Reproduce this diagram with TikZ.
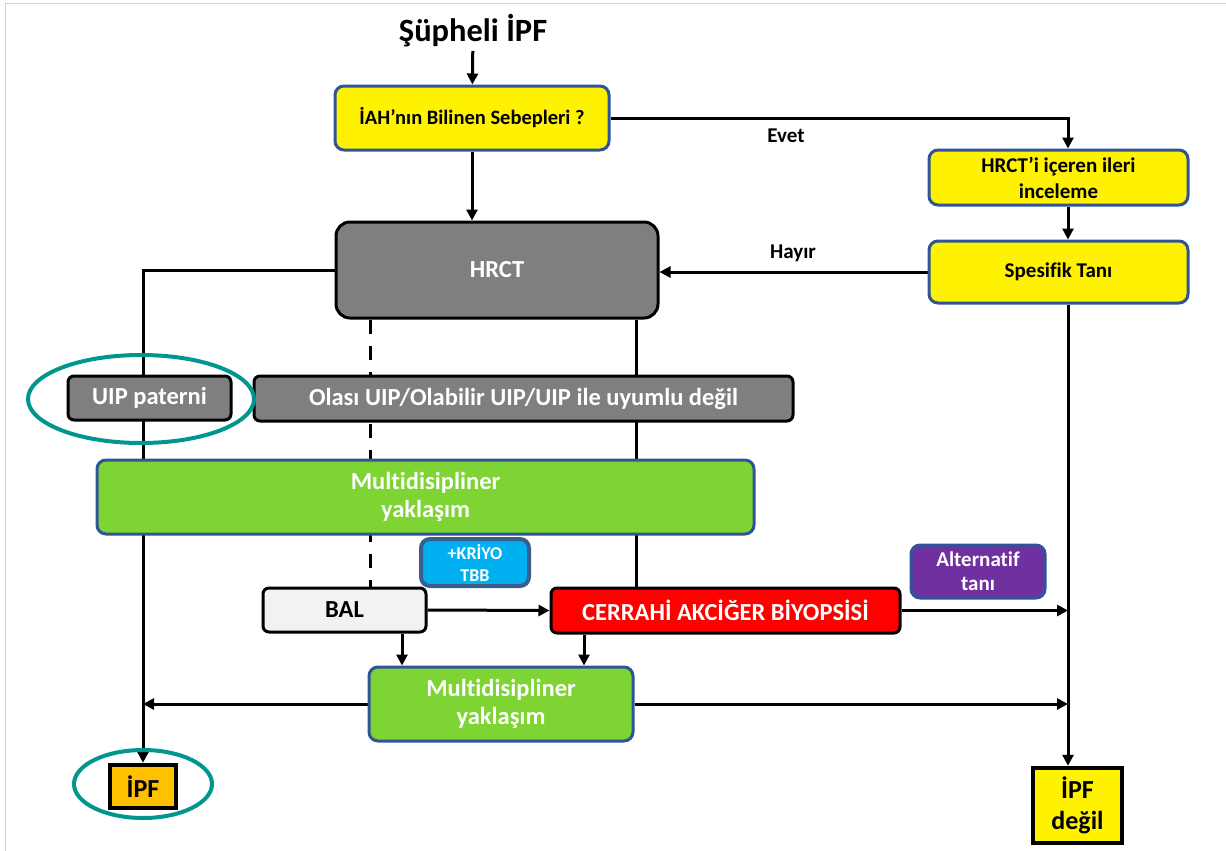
\documentclass[tikz,border=0pt]{standalone}
\usepackage{fontspec}
\setmainfont{Carlito}[Ligatures=NoCommon]
\usetikzlibrary{arrows.meta,backgrounds}

\definecolor{bordblue}{HTML}{2F5597}
\definecolor{boxgray}{HTML}{7F7F7F}
\definecolor{mdgreen}{HTML}{7ED432}
\definecolor{kriyo}{HTML}{00B0F0}
\definecolor{kriyobord}{HTML}{3B5E8C}
\definecolor{altpurple}{HTML}{7030A0}
\definecolor{ipforange}{HTML}{FFC000}
\definecolor{ringteal}{HTML}{00968F}
\definecolor{framegray}{HTML}{D0D0D0}

\newcommand{\fs}[2]{\bfseries\fontsize{#1}{#2}\selectfont}

\tikzset{
  base/.style={rectangle, rounded corners=9pt, line width=3pt, align=center,
    font=\fs{24.5}{28}, inner sep=0pt},
  yellowbox/.style={base, draw=bordblue, fill=yellow, text=black, font=\fs{21}{26}},
  graybox/.style={base, draw=black, fill=boxgray, text=white},
  greenbox/.style={base, draw=bordblue, fill=mdgreen, text=white},
  redbox/.style={base, draw=black, fill=red, text=white},
  balbox/.style={base, draw=black, fill=black!5, text=black},
  kriyobox/.style={base, draw=kriyobord, line width=4pt, fill=kriyo, text=white,
    font=\fs{18}{22}},
  altbox/.style={base, draw=bordblue, fill=altpurple, text=white,
    font=\fs{21}{24}},
  endbox/.style={rectangle, line width=4.5pt, draw=black, align=center, inner sep=0pt,
    font=\fs{26}{31}},
  conn/.style={line width=3pt},
  arr/.style={conn, -{Triangle[length=11pt,width=11pt]}},
  ring/.style={draw=ringteal, line width=4pt},
  lbl/.style={font=\fs{21}{24}, text=black},
}

\begin{document}
\begin{tikzpicture}[x=1pt,y=-1pt]
  \useasboundingbox (0,0) rectangle (1226,851);
  % page frame
  \draw[framegray, line width=1.5pt] (5.5,851) -- (5.5,3.5) -- (1226,3.5);

  % column guides for the vertical connectors
  \coordinate (rc) at (1068,0);
  \coordinate (dashx) at (370,0);
  \coordinate (solx) at (636,0);
  \coordinate (balx) at (402,0);
  \coordinate (cerx) at (584,0);

  % title
  \node[font=\fs{32.5}{38}] (title) at (473,31) {Şüpheli İPF};

  % boxes
  \node[yellowbox, font=\fs{20.5}{24}, minimum width=274pt, minimum height=64pt] (iah) at (472,118) {İAH’nın Bilinen Sebepleri ?};
  \node[yellowbox, minimum width=259pt, minimum height=55pt] (hrcti) at (1058.5,177.5) {HRCT’i içeren ileri\\inceleme};
  \node[yellowbox, minimum width=259pt, minimum height=62pt] (spes) at (1058.5,272) {Spesifik Tanı};
  \node[graybox, rounded corners=14pt, minimum width=322pt, minimum height=96pt] (hrct) at (497,270) {HRCT};
  \node[graybox, rounded corners=6pt, minimum width=163pt, minimum height=44pt] (uip) at (149.5,398) {UIP paterni};
  \node[graybox, rounded corners=6pt, minimum width=539pt, minimum height=45pt] (olasi) at (523.5,398.5) {Olası UIP/Olabilir UIP/UIP ile uyumlu değil};
  \node[greenbox, minimum width=657pt, minimum height=74pt] (md1) at (425.5,497) {Multidisipliner\\yaklaşım};
  \node[kriyobox, minimum width=108pt, minimum height=47pt] (kriyo) at (475,562.5) {+KRİYO\\TBB};
  \node[balbox, rounded corners=6pt, minimum width=163pt, minimum height=44pt] (bal) at (344.5,610) {BAL};
  \node[redbox, rounded corners=6pt, minimum width=349pt, minimum height=45pt] (cab) at (725.5,610.5) {CERRAHİ AKCİĞER BİYOPSİSİ};
  \node[altbox, minimum width=134pt, minimum height=53pt] (alt) at (978,571.5) {Alternatif\\tanı};
  \node[greenbox, minimum width=264pt, minimum height=74pt] (md2) at (501,704) {Multidisipliner\\yaklaşım};
  \node[endbox, fill=ipforange, minimum width=66pt, minimum height=43pt] (ipf) at (143,786.5) {İPF};
  \node[endbox, fill=yellow, minimum width=89pt, minimum height=75pt] (ipfd) at (1077.5,805.5) {İPF\\değil};

  % highlight rings
  \draw[ring] (141,399) ellipse [x radius=113pt, y radius=44pt];
  \draw[ring] (143,784) ellipse [x radius=69pt, y radius=34pt];

  % connectors
  \begin{scope}[on background layer]
    \draw[arr] (title) -- (iah);
    \draw[arr] (iah) -- (hrct.north -| iah);
    \draw[arr] (iah.east) -| (hrcti.north -| rc);
    \draw[arr] (hrcti.south -| rc) -- (spes.north -| rc);
    \draw[arr] (spes.west) -- (hrct.east |- spes.west);
    \draw[arr] (hrct.west) -| (ipf.north);
    \draw[conn, dash pattern=on 14pt off 12pt] (hrct.south -| dashx) -- (bal.north -| dashx);
    \draw[conn] (hrct.south -| solx) -- (cab.north -| solx);
    \draw[arr] (bal.east) -- (cab.west);
    \draw[arr] (cab.east) -- (cab.east -| rc);
    \draw[arr] (spes.south -| rc) -- (ipfd.north -| rc);
    \draw[arr] (bal.south -| balx) -- (md2.north -| balx);
    \draw[arr] (cab.south -| cerx) -- (md2.north -| cerx);
    \draw[arr] (md2.west) -- (md2.west -| ipf.north);
    \draw[arr] (md2.east) -- (md2.east -| rc);
  \end{scope}

  % branch labels
  \node[lbl] (evet) at (786,136) {Evet};
  \node[lbl] (hayir) at (793,253) {Hayır};
\end{tikzpicture}
\end{document}
